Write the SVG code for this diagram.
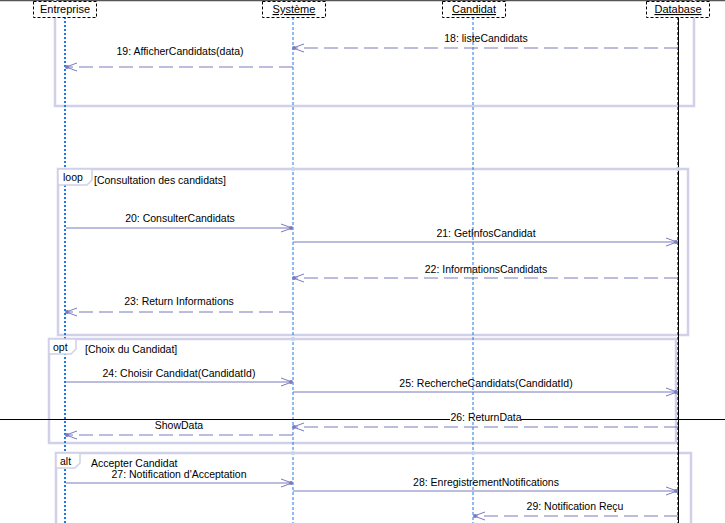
<svg xmlns="http://www.w3.org/2000/svg" width="725" height="523" viewBox="0 0 725 523">
<style>
text{font-family:"Liberation Sans",Arial,sans-serif;font-size:10.5px;fill:#000}
.hdr{fill:#fff;stroke:#000;stroke-width:1;stroke-dasharray:3 2}
.life{stroke:#1E78E6;stroke-width:1;stroke-dasharray:3 2;fill:none}
.frame{fill:none;stroke:#D0D0E8;stroke-width:2.5}
.tab{fill:#fff;stroke:#D0D0E8;stroke-width:1.5}
.msg{stroke:#7B7BC0;stroke-width:1.2;fill:none;marker-end:url(#arr)}
.ret{stroke:#7B7BC0;stroke-width:1.2;fill:none;stroke-dasharray:14 6;marker-end:url(#arr)}
.ml{text-anchor:middle}
.dot{fill:#C8D4EC}
</style>
<defs>
<marker id="arr" viewBox="-12 -6 14 12" refX="0" refY="0" markerWidth="14" markerHeight="12" orient="auto" markerUnits="userSpaceOnUse">
<path d="M-11,-4 L0,0 L-11,4" fill="none" stroke="#7B7BC0" stroke-width="1"/>
<circle cx="-1" cy="0" r="2" fill="#7B7BC0"/>
</marker>
</defs>
<rect width="725" height="523" fill="#fff"/>
<line x1="0" y1="0.5" x2="725" y2="0.5" stroke="#555" stroke-width="1.5"/>

<!-- frame outlines -->
<g id="frame-top">
<path class="frame" d="M55,-5 V106 H694 V-5"/>
</g>
<g id="frame-loop-box">
<rect class="frame" x="58" y="169" width="630" height="166"/>
</g>
<g id="frame-opt-box">
<rect class="frame" x="49" y="339" width="627" height="104"/>
</g>
<g id="frame-alt-box">
<path class="frame" d="M56,530 V453 H691 V530"/>
</g>

<!-- lifelines -->
<g id="Entreprise">
<line x1="65" y1="17" x2="65" y2="523" stroke="#1E78E6" stroke-width="2" stroke-dasharray="2 2"/>
<rect class="hdr" x="33.5" y="1.5" width="63" height="16"/>
<text x="65" y="13" class="ml" style="font-size:11px">Entreprise</text>
</g>
<g id="Systeme">
<line class="life" x1="293" y1="17" x2="293" y2="523"/>
<rect class="hdr" x="262.5" y="1.5" width="63" height="16"/>
<text x="294" y="13" class="ml" style="font-size:11px;text-decoration:underline">Système</text>
</g>
<g id="Candidat">
<line class="life" x1="473" y1="17" x2="473" y2="523"/>
<rect class="hdr" x="442.5" y="1.5" width="63" height="16"/>
<text x="474" y="13" class="ml" style="font-size:11px;text-decoration:underline">Candidat</text>
</g>
<g id="Database">
<line x1="678.5" y1="17" x2="678.5" y2="523" stroke="#000" stroke-width="1"/>
<line class="life" x1="677.5" y1="17" x2="677.5" y2="523"/>
<rect class="hdr" x="646.5" y="1.5" width="63" height="16"/>
<text x="678" y="13" class="ml" style="font-size:11px;text-decoration:underline">Database</text>
</g>

<!-- frame tabs and guards -->
<g id="frame-loop">
<path class="tab" d="M58,169 H92 V180 L87,185 H58 Z"/>
<text x="63" y="181">loop</text>
<text x="94" y="184">[Consultation des candidats]</text>
</g>
<g id="frame-opt">
<path class="tab" d="M49,339 H76 V349 L71,354 H49 Z"/>
<text x="53" y="351">opt</text>
<text x="85" y="353">[Choix du Candidat]</text>
</g>
<g id="frame-alt">
<path class="tab" d="M56,453 H80 V463 L75,468 H56 Z"/>
<text x="60" y="465">alt</text>
<text x="91" y="467">Accepter Candidat</text>
</g>

<!-- crossing dots -->
<g id="dots">
<circle class="dot" cx="293" cy="169" r="2"/>
<circle class="dot" cx="678" cy="169" r="2"/>
<circle class="dot" cx="293" cy="339" r="2"/>
<circle class="dot" cx="293" cy="453" r="2"/>
<circle class="dot" cx="473" cy="453" r="2"/>
</g>

<!-- stray separator line -->
<g id="separator">
<line x1="0" y1="419.5" x2="725" y2="419.5" stroke="#000" stroke-width="1.2"/>
</g>

<!-- connectors -->
<g id="connectors">
<path class="ret" d="M678,48 H293"/>
<text class="ml" x="486" y="42">18: listeCandidats</text>
<path class="ret" d="M293,67 H66"/>
<text class="ml" x="180" y="55">19: AfficherCandidats(data)</text>

<path class="msg" d="M66,228 H292"/>
<text class="ml" x="180" y="222">20: ConsulterCandidats</text>
<path class="msg" d="M293,242 H677"/>
<text class="ml" x="486" y="237">21: GetInfosCandidat</text>
<path class="ret" d="M678,278 H293"/>
<text class="ml" x="486" y="273">22: InformationsCandidats</text>
<path class="ret" d="M293,312 H66"/>
<text class="ml" x="179" y="305">23: Return Informations</text>

<path class="msg" d="M66,382 H292"/>
<text class="ml" x="179" y="377">24: Choisir Candidat(CandidatId)</text>
<path class="msg" d="M293,392 H677"/>
<text class="ml" x="486" y="387">25: RechercheCandidats(CandidatId)</text>
<path class="ret" d="M678,427 H293"/>
<rect x="450" y="414" width="71" height="7" fill="#fff"/>
<text class="ml" x="486" y="421">26: ReturnData</text>
<path class="ret" d="M293,435 H66"/>
<rect x="154" y="420" width="50" height="10" fill="#fff"/>
<text class="ml" x="179" y="429">ShowData</text>

<path class="msg" d="M66,483 H292"/>
<text class="ml" x="179" y="478">27: Notification d'Acceptation</text>
<path class="msg" d="M293,491 H677"/>
<text class="ml" x="486" y="486">28: EnregistrementNotifications</text>
<path class="ret" d="M678,516 H474"/>
<text class="ml" x="575" y="510">29: Notification Reçu</text>
</g>
</svg>
